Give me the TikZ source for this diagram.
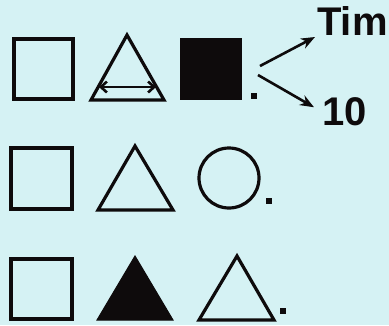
\documentclass[tikz,border=0pt]{standalone}
\usepackage{fontspec}
\setmainfont{Liberation Sans}
\usetikzlibrary{positioning,arrows.meta}
\definecolor{cPaper}{HTML}{D5F2F4}
\definecolor{cInk}{HTML}{0E0B0C}

\begin{document}
\begin{tikzpicture}[x=1pt,y=-1pt,
    outl/.style={draw=cInk,line width=3.2pt,line join=miter},
    solid/.style={fill=cInk,draw=cInk,line width=1pt},
    lbl/.style={inner sep=0pt,text=cInk,font=\fontsize{40}{40}\selectfont\bfseries},
    conn/.style={draw=cInk,line width=2.6pt,-{Stealth[length=14pt,width=11pt]}}]
  \fill[cPaper] (0,0) rectangle (389,325);
  \useasboundingbox (0,0) rectangle (389,325);
  % row 1
  \draw[outl] (14,39) rectangle (73,99);
  \draw[outl] (127,35) -- (164,100) -- (91,100) -- cycle;
  \draw[cInk,line width=2.6pt,{Straight Barb[length=6pt,width=11pt]}-{Straight Barb[length=6pt,width=11pt]}] (99,87) -- (156,87);
  \draw[solid] (180,38) rectangle (241,99);
  \fill[cInk] (251,93) rectangle (257,99);
  % labels and arrows
  \node[lbl,anchor=base west] (tim) at (317,35) {Tim};
  \node[lbl,anchor=base west] (ten) at (322,125) {10};
  \coordinate (up) at (260,66);
  \coordinate (dn) at (258,75);
  \draw[conn] (up) -- ([shift={(-2,2)}]tim.base west);
  \draw[conn] (dn) -- ([shift={(-8,-4)}]ten.west);
  % row 2
  \draw[outl] (11,148) rectangle (72,209);
  \draw[outl] (135,146) -- (173,210) -- (98,210) -- cycle;
  \draw[outl] (229,178) circle[radius=30];
  \fill[cInk] (266,198) rectangle (272,204);
  % row 3
  \draw[outl] (11,259) rectangle (72,319);
  \draw[solid] (135,256) -- (173,320) -- (97,320) -- cycle;
  \draw[outl] (237,256) -- (274,320) -- (199,320) -- cycle;
  \fill[cInk] (280,308) rectangle (286,314);
\end{tikzpicture}
\end{document}
